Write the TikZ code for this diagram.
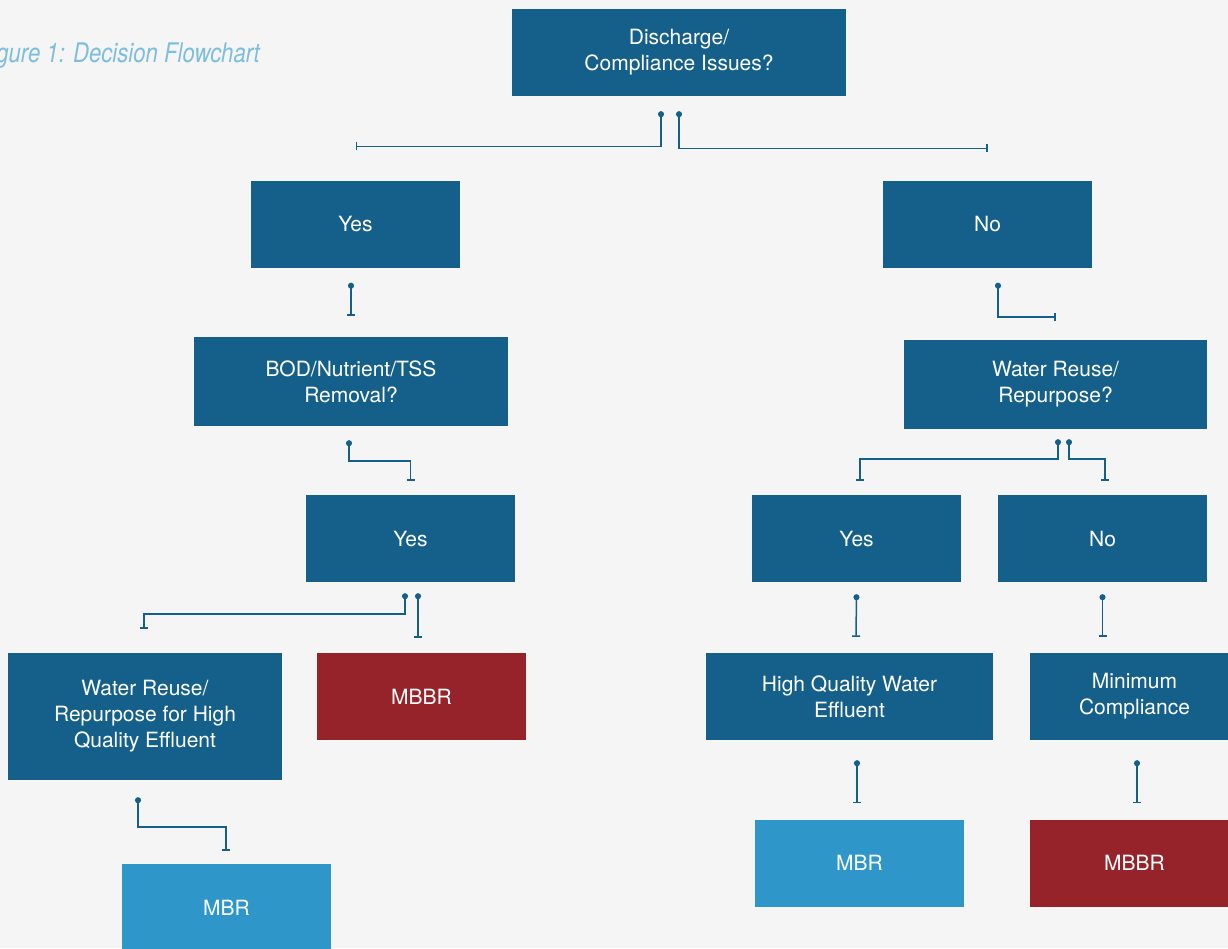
\documentclass[tikz,border=0pt]{standalone}
\usepackage{fontspec}
\setmainfont{TeX Gyre Heros}
\usetikzlibrary{arrows.meta,calc}
\definecolor{darkblue}{RGB}{20,96,138}
\definecolor{lightblue}{RGB}{46,150,200}
\definecolor{darkred}{RGB}{150,35,42}
\definecolor{titleblue}{RGB}{125,190,222}
\definecolor{paper}{RGB}{245,245,245}
\begin{document}
\begin{tikzpicture}[x=1pt, y=-1pt,
    box/.style={fill=darkblue, text=white, align=center,
      minimum width=209pt, minimum height=87pt, inner sep=0pt,
      font=\fontsize{21}{26}\selectfont},
    mbr/.style={box, fill=lightblue},
    mbbr/.style={box, fill=darkred},
    link/.style={darkblue, line width=1.5pt,
      {Circle[length=6pt]-Bar[width=8pt]}}]
  % Paper
  \fill[paper] (0,0) rectangle (1228,948);
  \useasboundingbox (0,0) rectangle (1228,948);
  \clip (0,0) rectangle (1228,948);
  % Title
  \node[anchor=base east, text=titleblue, inner sep=0pt,
    font=\fontsize{27}{30}\selectfont\itshape] (title) at (260,62)
    {\scalebox{0.82}[1]{Figure 1: Decision Flowchart}};
  % Boxes
  \node[box, minimum width=334pt] (disc) at (679,52.5) {Discharge/\\Compliance Issues?};
  \node[box] (yes1) at (355.5,224) {Yes};
  \node[box] (no1) at (987.5,224) {No};
  \node[box, minimum width=314pt, minimum height=89pt] (bod) at (351,381.5) {BOD/Nutrient/TSS\\Removal?};
  \node[box, minimum width=303pt, minimum height=89pt] (reuse) at (1055.5,384.5) {Water Reuse/\\Repurpose?};
  \node[box] (yes2) at (410.5,538.5) {Yes};
  \node[box] (yes3) at (856.5,538.5) {Yes};
  \node[box] (no2) at (1102.5,538.5) {No};
  \node[box, minimum width=274pt, minimum height=127pt] (eff) at (145,716.5) {Water Reuse/\\Repurpose for High\\Quality Effluent};
  \node[mbbr] (mbbr1) at (421.5,696.5) {MBBR};
  \node[box, minimum width=287pt] (hq) at (849.5,696.5) {High Quality Water\\Effluent};
  \node[box] (min) at (1134.5,696.5) {Minimum\\Compliance};
  \node[mbr] (mbr1) at (226.5,907.5) {MBR};
  \node[mbr] (mbr2) at (859.5,863) {MBR};
  \node[mbbr] (mbbr2) at (1134.5,863) {MBBR};
  % Connectors
  \draw[link] ($(disc.south)+(-18,15)$) |- ($(yes1.north)+(0,-34)$);
  \draw[link] ($(disc.south)+(0,15)$) |- ($(no1.north)+(0,-32)$);
  \draw[link] ($(yes1.south)+(-4.5,15)$) -- ($(bod.north)+(0,-21)$);
  \draw[link] ($(no1.south)+(10.5,15)$) |- ($(reuse.north)+(0,-23)$);
  \draw[link] ($(bod.south)+(-2,14)$) -- ++(0,21) -| ($(yes2.north)+(0,-14)$);
  \draw[link] ($(reuse.south)+(2.5,10)$) -- ++(0,20) -| ($(yes3.north)+(3.5,-14)$);
  \draw[link] ($(reuse.south)+(13.5,10)$) -- ++(0,20) -| ($(no2.north)+(2.5,-14)$);
  \draw[link] ($(yes2.south)+(-5.5,11)$) -- ++(0,21) -| ($(eff.north)+(-1,-24)$);
  \draw[link] ($(yes2.south)+(7.5,11)$) -- ($(mbbr1.north)+(-3.5,-15)$);
  \draw[link] ($(yes3.south)+(0,12)$) -- ($(hq.north)+(6.5,-16)$);
  \draw[link] ($(no2.south)+(0,12)$) -- ($(min.north)+(-32,-16)$);
  \draw[link] ($(eff.south)+(-7,17)$) -- ++(0,30) -| ($(mbr1.north)+(-0.5,-13)$);
  \draw[link] ($(hq.south)+(7.5,20)$) -- ($(mbr2.north)+(-2.5,-16)$);
  \draw[link] ($(min.south)+(2.5,20)$) -- ($(mbbr2.north)+(2.5,-16)$);
\end{tikzpicture}
\end{document}
